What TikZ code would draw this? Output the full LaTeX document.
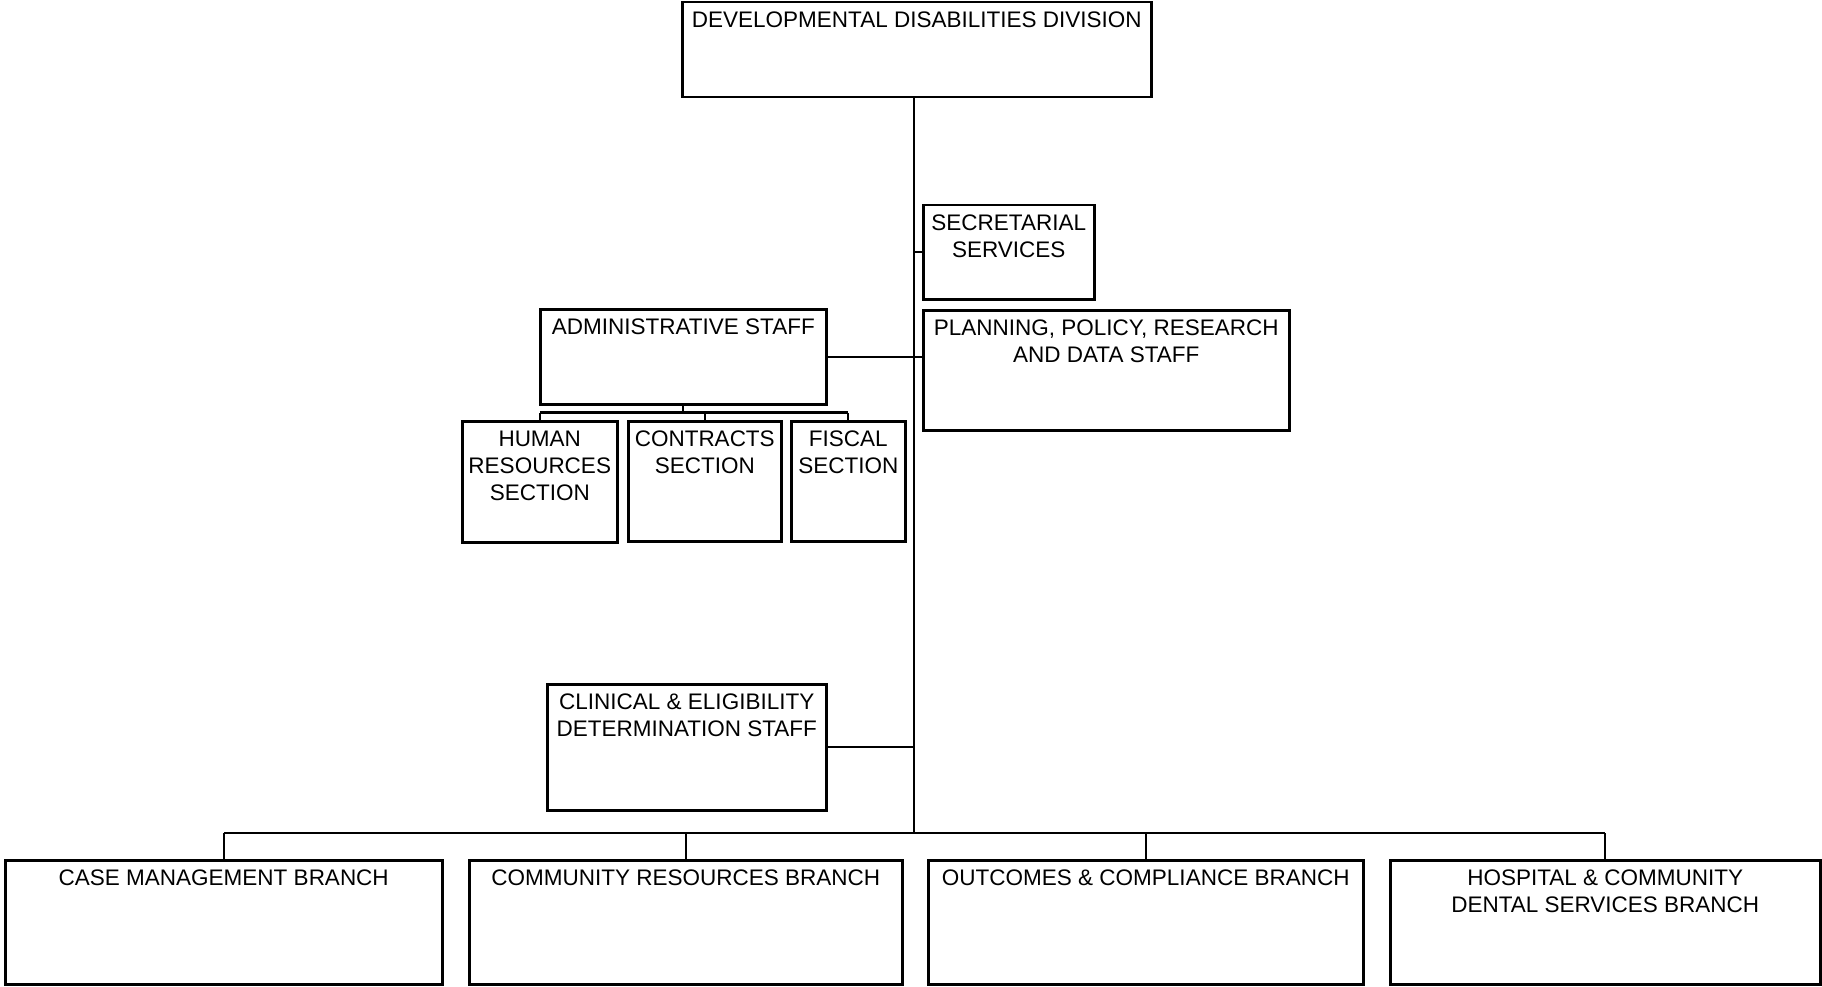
\documentclass[tikz,border=0pt]{standalone}
\usepackage{fontspec}
\setmainfont{Liberation Sans}
\usepackage{tikz}
\usetikzlibrary{positioning}
\tikzset{
	x=1pt,y=-1pt,
	unit/.style ={draw, line width=2.5pt, anchor=north west, inner sep=0pt},
	caption/.style = {anchor=north, align=center, inner xsep=8pt, inner ysep=11pt, font=\fontsize{22.5}{27}\selectfont},
	link/.style = {line width=2.2pt}
}
\begin{document}
\begin{tikzpicture}
    \useasboundingbox (0,0) rectangle (1822,987);
    \node[unit, minimum width=469pt, minimum height=95pt, label={[caption]north:DEVELOPMENTAL DISABILITIES DIVISION}] (ddd) at (681,1) {};
    \node[unit, minimum width=171pt, minimum height=94pt, label={[caption]north:{SECRETARIAL\\SERVICES}}] (secr) at (922,204) {};
    \node[unit, minimum width=286pt, minimum height=95pt, label={[caption]north:ADMINISTRATIVE STAFF}] (admin) at (539,308) {};
    \node[unit, minimum width=366pt, minimum height=120pt, label={[caption]north:{PLANNING, POLICY, RESEARCH\\AND DATA STAFF}}] (plan) at (922,309) {};
    \node[unit, minimum width=155pt, minimum height=121pt, label={[caption]north:{HUMAN\\RESOURCES\\SECTION}}] (human) at (461,420) {};
    \node[unit, minimum width=153pt, minimum height=120pt, label={[caption]north:{CONTRACTS\\SECTION}}] (contracts) at (627,420) {};
    \node[unit, minimum width=114pt, minimum height=120pt, label={[caption]north:{FISCAL\\SECTION}}] (fiscal) at (790,420) {};
    \node[unit, minimum width=279pt, minimum height=126pt, label={[caption]north:{CLINICAL \& ELIGIBILITY\\DETERMINATION STAFF}}] (clinical) at (546,683) {};
    \node[unit, minimum width=437pt, minimum height=124pt, label={[caption]north:CASE MANAGEMENT BRANCH}] (casemgmt) at (4,859) {};
    \node[unit, minimum width=433pt, minimum height=124pt, label={[caption]north:COMMUNITY RESOURCES BRANCH}] (community) at (468,859) {};
    \node[unit, minimum width=435pt, minimum height=124pt, label={[caption]north:OUTCOMES \& COMPLIANCE BRANCH}] (outcomes) at (927,859) {};
    \node[unit, minimum width=430pt, minimum height=124pt, label={[caption]north:{HOSPITAL \& COMMUNITY\\DENTAL SERVICES BRANCH}}] (hospital) at (1389,859) {};
    \coordinate (bus) at (914,833);

    \draw[link] (bus |- ddd.south) -- (bus);
    \draw[link] (secr.west) -- (secr.west -| bus);
    \draw[link] (admin.east) -- (admin.east -| plan.west);
    \draw[link] (clinical.east) -- (clinical.east -| bus);
    \draw[link] (admin.south) -- ++(0,7) coordinate (abus);
    \draw[link] (human.north |- abus) -- (fiscal.north |- abus);
    \foreach \s in {human,contracts,fiscal}
        \draw[link] (\s.north) -- (\s.north |- abus);
    \draw[link] (casemgmt.north |- bus) -- (hospital.north |- bus);
    \foreach \s in {casemgmt,community,outcomes,hospital}
        \draw[link] (\s.north) -- (\s.north |- bus);
\end{tikzpicture}
\end{document}
